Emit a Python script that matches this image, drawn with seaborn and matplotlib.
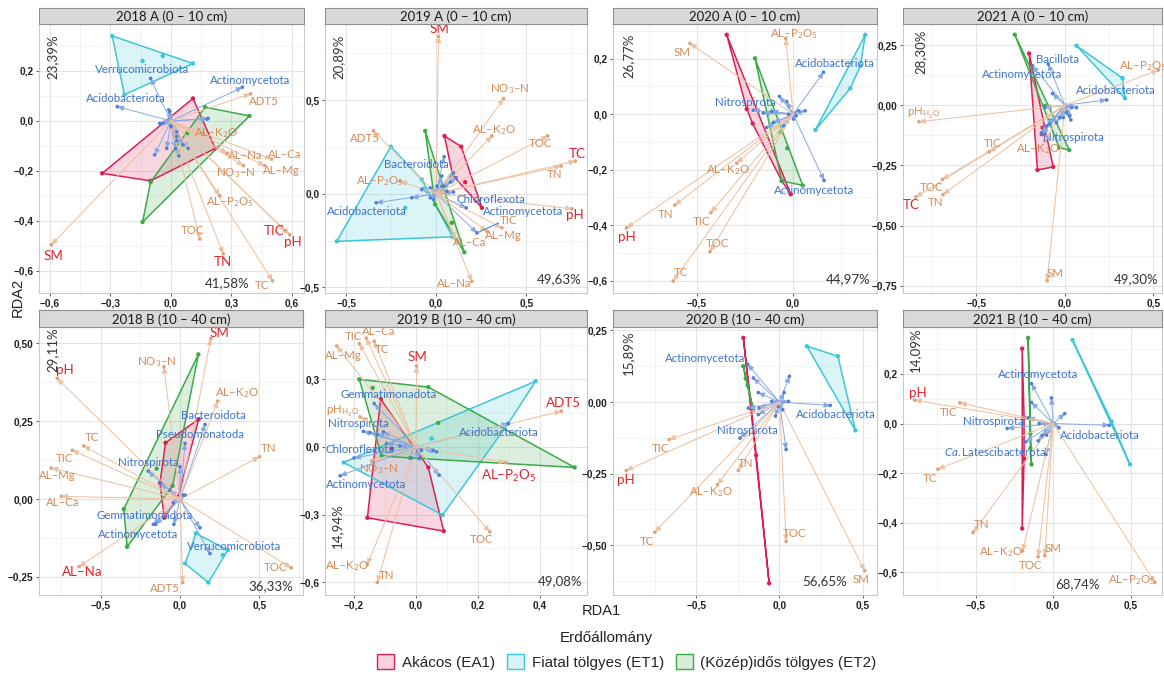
import matplotlib
matplotlib.use("Agg")
import matplotlib.pyplot as plt
import numpy as np
import pandas as pd
import seaborn as sns
from matplotlib.patches import Polygon, Patch
from matplotlib.ticker import FixedLocator, AutoMinorLocator, FuncFormatter

# ---------------------------------------------------------------- data
GROUP_CODES = ["EA1", "ET1", "ET2"]
GROUP_NAMES = ["Akácos (EA1)", "Fiatal tölgyes (ET1)", "(Közép)idős tölgyes (ET2)"]
GROUP_COLORS = ["#DC1F55", "#3CC6D9", "#3DAA48"]

PANEL_KEYS = ["2018A", "2019A", "2020A", "2021A", "2018B", "2019B", "2020B", "2021B"]
PANEL_TITLES = ["2018 A (0 – 10 cm)", "2019 A (0 – 10 cm)", "2020 A (0 – 10 cm)",
                "2021 A (0 – 10 cm)", "2018 B (10 – 40 cm)", "2019 B (10 – 40 cm)",
                "2020 B (10 – 40 cm)", "2021 B (10 – 40 cm)"]

# explained variance (RDA1, RDA2)
pct_2018A = ("41,58%", "23,39%")
pct_2019A = ("49,63%", "20,89%")
pct_2020A = ("44,97%", "26,77%")
pct_2021A = ("49,30%", "28,30%")
pct_2018B = ("36,33%", "29,11%")
pct_2019B = ("49,08%", "14,94%")
pct_2020B = ("56,65%", "15,89%")
pct_2021B = ("68,74%", "14,09%")

# site scores by forest stand
sites_2018A = {
    "EA1": [(0.11, 0.09), (0.22, -0.11), (-0.10, -0.24), (-0.34, -0.21), (0.02, -0.05)],
    "ET1": [(-0.29, 0.34), (0.11, 0.23), (-0.23, 0.105), (-0.14, 0.24), (-0.04, 0.26)],
    "ET2": [(0.17, 0.055), (0.39, 0.02), (-0.14, -0.405), (-0.10, -0.245), (0.08, -0.05)],
}
sites_2019A = {
    "EA1": [(0.046, 0.309), (0.139, 0.252), (0.254, -0.075), (0.091, 0.10), (0.161, 0.062)],
    "ET1": [(-0.252, 0.252), (-0.08, 0.077), (0.091, -0.23), (-0.552, -0.254), (-0.172, -0.075), (-0.07, 0.027)],
    "ET2": [(-0.061, 0.336), (0.156, -0.3125), (-0.006, -0.057), (0.087, -0.155), (0.096, -0.218)],
}
sites_2020A = {
    "EA1": [(-0.345, 0.286), (-0.012, -0.289), (-0.21, -0.034), (-0.241, 0.018), (-0.059, -0.241)],
    "ET1": [(0.375, 0.286), (0.297, 0.093), (0.116, -0.057), (0.35, 0.175)],
    "ET2": [(-0.198, 0.201), (0.05, -0.257), (-0.059, -0.241), (-0.068, -0.064), (-0.03, -0.123)],
}
sites_2021A = {
    "EA1": [(-0.202, 0.215), (-0.155, -0.269), (-0.066, -0.256), (-0.126, -0.093), (-0.13, -0.12)],
    "ET1": [(0.066, 0.247), (0.326, 0.1125), (0.34, 0.029)],
    "ET2": [(-0.283, 0.293), (0.025, -0.186), (-0.032, -0.176), (-0.113, -0.003), (-0.085, -0.065)],
}
sites_2018B = {
    "EA1": [(0.118, 0.257), (-0.091, 0.181), (-0.126, 0.052), (-0.099, -0.06), (-0.011, 0.0075)],
    "ET1": [(0.101, -0.11), (0.301, -0.164), (0.179, -0.268), (0.032, -0.207), (0.27, -0.18)],
    "ET2": [(0.116, 0.465), (-0.354, -0.032), (-0.333, -0.153), (-0.046, 0.043), (-0.147, 0.098)],
}
sites_2019B = {
    "EA1": [(-0.114, 0.211), (0.04, -0.091), (0.09, -0.373), (-0.157, -0.314), (-0.078, -0.007)],
    "ET1": [(0.387, 0.291), (-0.234, -0.069), (0.086, -0.302), (0.051, 0.037), (0.298, 0.103)],
    "ET2": [(-0.183, 0.299), (0.04, 0.265), (0.513, -0.091), (-0.111, -0.04), (-0.14, 0.261),
            (0.072, 0.106), (-0.019, -0.049)],
}
sites_2020B = {
    "EA1": [(-0.217, 0.224), (-0.062, -0.633), (-0.168, -0.023), (-0.14, -0.186)],
    "ET1": [(0.165, 0.195), (0.351, 0.16), (0.456, -0.099)],
    "ET2": [(-0.217, 0.125), (-0.191, 0.058), (-0.157, -0.027), (-0.203, 0.082)],
}
sites_2021B = {
    "EA1": [(-0.2, 0.302), (-0.2, -0.423), (-0.188, 0.023), (-0.188, -0.141)],
    "ET1": [(0.125, 0.336), (0.496, -0.165), (0.377, 0.009)],
    "ET2": [(-0.162, 0.345), (-0.14, -0.165), (-0.147, -0.04), (-0.147, -0.10)],
}

# named phyla (species scores)
spp_2018A = [("Verrucomicrobiota", -0.10, 0.17), ("Actinomycetota", 0.355, 0.135),
             ("Acidobacteriota", -0.265, 0.057)]
spp_2019A = [("Bacteroidota", 0.044, 0.198), ("Acidobacteriota", -0.333, -0.048),
             ("Chloroflexota", 0.167, -0.075), ("Actinomycetota", 0.226, -0.209)]
spp_2020A = [("Acidobacteriota", 0.158, 0.151), ("Nitrospirota", -0.207, 0.014),
             ("Actinomycetota", 0.161, -0.239)]
spp_2021A = [("Bacillota", -0.094, 0.171), ("Actinomycetota", -0.183, 0.164),
             ("Acidobacteriota", 0.236, 0.022), ("Nitrospirota", -0.126, -0.121)]
spp_2018B = [("Bacteroidota", 0.158, 0.24), ("Pseudomonatoda", 0.032, 0.179),
             ("Nitrospirota", -0.20, 0.09), ("Gemmatimonadota", -0.152, -0.081),
             ("Actinomycetota", -0.168, -0.081), ("Verrucomicrobiota", 0.189, -0.175)]
spp_2019B = [("Gemmatimonadota", -0.135, 0.192), ("Nitrospirota", -0.17, 0.069),
             ("Chloroflexota", -0.20, -0.049), ("Actinomycetota", -0.245, -0.128),
             ("Acidobacteriota", 0.298, 0.103)]
spp_2020B = [("Actinomycetota", -0.191, 0.132), ("Acidobacteriota", 0.305, -0.012),
             ("Nitrospirota", -0.237, -0.126)]
spp_2021B = [("Actinomycetota", -0.14, 0.161), ("Nitrospirota", -0.297, -0.02),
             ("Acidobacteriota", 0.362, -0.007), ("Ca. Latescibacterota", -0.047, -0.125)]

# remaining (unlabelled) phyla
spp_minor_2018A = [(-0.01, 0.044), (-0.005, 0.037), (-0.04, -0.01), (0.18, 0.007), (0.185, 0.01),
                   (0.0, -0.02), (0.03, -0.043), (0.03, -0.063), (0.03, -0.08), (-0.02, -0.11),
                   (0.023, -0.11), (0.06, -0.096), (0.086, -0.11), (0.04, -0.14), (-0.08, -0.136),
                   (-0.055, -0.01), (0.003, -0.023)]
spp_minor_2019A = [(0.031, 0.095), (0.004, 0.041), (0.059, 0.014), (0.096, 0.009), (0.078, 0.0625),
                   (-0.033, 0.032), (-0.135, -0.021), (-0.08, 0.023), (-0.033, -0.021), (0.031, 0.041),
                   (0.111, 0.086), (-0.015, -0.03), (0.044, 0.041), (0.096, 0.1125)]
spp_minor_2020A = [(-0.071, 0.064), (-0.033, 0.045), (0.028, 0.012), (0.0625, 0.012), (-0.155, 0.004),
                   (-0.111, 0.01), (-0.137, -0.048), (-0.102, -0.03), (-0.024, 0.0), (0.016, -0.006),
                   (-0.05, -0.042), (0.002, -0.018)]
spp_minor_2021A = [(-0.07, 0.049), (-0.113, -0.01), (-0.028, -0.051), (0.009, -0.031), (0.038, -0.01),
                   (0.066, -0.01), (0.028, -0.044), (0.034, -0.061), (-0.085, -0.079), (-0.047, -0.072),
                   (-0.009, -0.051), (-0.104, -0.086), (-0.132, -0.114)]
spp_minor_2018B = [(0.0, 0.104), (0.126, -0.092), (-0.122, 0.052), (-0.063, 0.029), (0.021, 0.013),
                   (-0.042, -0.011), (-0.038, -0.081), (0.032, 0.013)]
spp_minor_2019B = [(-0.148, 0.063), (-0.105, 0.066), (-0.095, 0.015), (-0.052, 0.004), (0.018, -0.015),
                   (0.056, -0.015), (0.067, -0.022), (0.075, -0.125), (-0.014, -0.049), (0.011, -0.052),
                   (-0.125, 0.055)]
spp_minor_2020B = [(-0.157, 0.084), (-0.127, 0.033), (-0.122, -0.021), (-0.127, -0.044), (-0.187, -0.021),
                   (0.06, 0.09), (0.028, 0.033), (0.054, 0.002), (-0.006, -0.017), (0.02, -0.027),
                   (-0.024, -0.049), (0.04, -0.166), (-0.046, 0.002)]
spp_minor_2021B = [(-0.14, 0.085), (-0.011, 0.103), (0.075, 0.04), (0.037, -0.017), (-0.097, -0.07),
                   (-0.069, -0.047), (-0.09, 0.0), (-0.162, 0.023), (-0.177, -0.074), (-0.043, -0.047)]

# environmental variables: (name, RDA1, RDA2, significant)
env_2018A = [("ADT5", 0.395, 0.108, False), ("AL-K2O", 0.16, -0.05, False), ("AL-Ca", 0.50, -0.153, False),
             ("AL-Mg", 0.466, -0.179, False), ("AL-Na", 0.28, -0.13, False), ("NO3-N", 0.36, -0.179, False),
             ("AL-P2O5", 0.243, -0.30, False), ("TOC", 0.144, -0.473, False), ("TN", 0.26, -0.532, True),
             ("TC", 0.504, -0.64, False), ("TIC", 0.565, -0.439, True), ("pH", 0.59, -0.456, True),
             ("SM", -0.592, -0.496, True)]
env_2019A = [("SM", 0.013, 0.841, True), ("NO3-N", 0.374, 0.509, False), ("AL-K2O", 0.309, 0.309, False),
             ("TOC", 0.619, 0.309, False), ("TC", 0.772, 0.175, True), ("TN", 0.693, 0.148, False),
             ("pH", 0.754, -0.08, True), ("TIC", 0.365, -0.182, False), ("AL-Mg", 0.281, -0.20, False),
             ("AL-Ca", 0.11, -0.245, False), ("AL-Na", 0.198, -0.468, False), ("ADT5", -0.348, 0.336, False),
             ("AL-P2O5", -0.20, 0.068, False)]
env_2020A = [("AL-P2O5", -0.038, 0.273, False), ("SM", -0.536, 0.255, False), ("AL-K2O", -0.293, -0.177, False),
             ("TN", -0.615, -0.328, False), ("pH", -0.866, -0.41, True), ("TIC", -0.427, -0.355, False),
             ("TOC", -0.432, -0.496, False), ("TC", -0.623, -0.602, False)]
env_2021A = [("AL-P2O5", 0.528, 0.146, False), ("pHH2O", -0.825, -0.069, False), ("TIC", -0.428, -0.194, False),
             ("AL-K2O", -0.113, -0.149, False), ("TOC", -0.692, -0.308, False), ("TC", -0.843, -0.381, True),
             ("TN", -0.689, -0.371, False), ("SM", -0.10, -0.729, False)]
env_2018B = [("SM", 0.194, 0.516, True), ("NO3-N", -0.101, 0.425, False), ("pH", -0.773, 0.388, True),
             ("AL-K2O", 0.238, 0.315, False), ("TN", 0.501, 0.136, False), ("TC", -0.606, 0.171, False),
             ("TIC", -0.678, 0.157, False), ("AL-Mg", -0.811, 0.10, False), ("AL-Ca", -0.747, 0.009, False),
             ("AL-Na", -0.636, -0.217, True), ("ADT5", 0.017, -0.268, False), ("TOC", 0.701, -0.221, False)]
env_2019B = [("TIC", -0.183, 0.457, False), ("AL-Ca", -0.161, 0.482, False), ("TC", -0.135, 0.468, False),
             ("AL-Mg", -0.256, 0.447, False), ("SM", 0.002, 0.358, True), ("ADT5", 0.47, 0.158, True),
             ("pHH2O", -0.181, 0.133, False), ("AL-P2O5", 0.29, -0.069, True), ("NO3-N", -0.143, -0.062, False),
             ("TOC", 0.239, -0.376, False), ("AL-K2O", -0.157, -0.521, False), ("TN", -0.125, -0.60, False)]
env_2020B = [("TIC", -0.663, -0.131, False), ("pH", -0.92, -0.239, True), ("TN", -0.247, -0.239, False),
             ("AL-K2O", -0.373, -0.289, False), ("TC", -0.749, -0.455, False), ("TOC", 0.04, -0.487, False),
             ("SM", 0.512, -0.589, False)]
env_2021B = [("pH", -0.894, 0.094, True), ("TIC", -0.603, 0.083, False), ("TC", -0.744, -0.184, False),
             ("TN", -0.517, -0.439, False), ("AL-K2O", -0.198, -0.514, False), ("TOC", -0.097, -0.537, False),
             ("SM", -0.054, -0.533, False), ("AL-P2O5", 0.657, -0.64, False)]

PANEL_DATA = {
    "2018A": (sites_2018A, spp_2018A, spp_minor_2018A, env_2018A, pct_2018A),
    "2019A": (sites_2019A, spp_2019A, spp_minor_2019A, env_2019A, pct_2019A),
    "2020A": (sites_2020A, spp_2020A, spp_minor_2020A, env_2020A, pct_2020A),
    "2021A": (sites_2021A, spp_2021A, spp_minor_2021A, env_2021A, pct_2021A),
    "2018B": (sites_2018B, spp_2018B, spp_minor_2018B, env_2018B, pct_2018B),
    "2019B": (sites_2019B, spp_2019B, spp_minor_2019B, env_2019B, pct_2019B),
    "2020B": (sites_2020B, spp_2020B, spp_minor_2020B, env_2020B, pct_2020B),
    "2021B": (sites_2021B, spp_2021B, spp_minor_2021B, env_2021B, pct_2021B),
}

# ---------------------------------------------------------------- layout
W, H = 1164, 678
# panel box in pixels (left, right, top, bottom), axis limits, ticks, decimals
LAYOUT = {
    "2018A": dict(box=(39, 304, 24, 293), xlim=(-0.653, 0.66), ylim=(-0.689, 0.388),
                  xt=[-0.6, -0.3, 0, 0.3, 0.6], yt=[-0.6, -0.4, -0.2, 0, 0.2], xd=1, yd=1,
                  p1=(0.709, 0.037), p2=(0.053, 0.877)),
    "2019A": dict(box=(325, 587, 24, 293), xlim=(-0.617, 0.837), ylim=(-0.53, 0.907),
                  xt=[-0.5, 0, 0.5], yt=[-0.5, 0, 0.5], xd=1, yd=1,
                  p1=(0.893, 0.052), p2=(0.05, 0.877)),
    "2020A": dict(box=(613, 877, 24, 293), xlim=(-0.936, 0.436), ylim=(-0.645, 0.325),
                  xt=[-0.5, 0], yt=[-0.6, -0.4, -0.2, 0, 0.2], xd=1, yd=1,
                  p1=(0.89, 0.05), p2=(0.06, 0.88)),
    "2021A": dict(box=(903, 1162, 24, 293), xlim=(-0.915, 0.549), ylim=(-0.78, 0.3375),
                  xt=[-0.5, 0, 0.5], yt=[-0.75, -0.5, -0.25, 0, 0.25], xd=1, yd=2,
                  p1=(0.9, 0.05), p2=(0.066, 0.896)),
    "2018B": dict(box=(39, 303, 327, 595), xlim=(-0.888, 0.775), ylim=(-0.308, 0.553),
                  xt=[-0.5, 0, 0.5], yt=[-0.25, 0, 0.25, 0.5], xd=1, yd=2,
                  p1=(0.879, 0.034), p2=(0.05, 0.914)),
    "2019B": dict(box=(325, 587, 327, 595), xlim=(-0.294, 0.553), ylim=(-0.656, 0.531),
                  xt=[-0.2, 0, 0.2, 0.4], yt=[-0.6, -0.3, 0, 0.3], xd=1, yd=1,
                  p1=(0.897, 0.052), p2=(0.046, 0.26)),
    "2020B": dict(box=(613, 877, 327, 595), xlim=(-1.0, 0.586), ylim=(-0.674, 0.262),
                  xt=[-0.5, 0, 0.5], yt=[-0.5, -0.25, 0, 0.25], xd=1, yd=2,
                  p1=(0.803, 0.052), p2=(0.057, 0.903)),
    "2021B": dict(box=(903, 1162, 327, 595), xlim=(-0.97, 0.703), ylim=(-0.691, 0.389),
                  xt=[-0.5, 0, 0.5], yt=[-0.6, -0.4, -0.2, 0, 0.2], xd=1, yd=1,
                  p1=(0.672, 0.04), p2=(0.046, 0.914)),
}

# label offsets from the arrow tip, in pixels (x right, y up)
LABEL_OFFSETS = {
    "2018A": {"Verrucomicrobiota": (-9, 9), "Actinomycetota": (8, 7), "Acidobacteriota": (9, 8),
              "ADT5": (13, -8), "AL-K2O": (13, 0), "AL-Ca": (13, 5), "AL-Mg": (16, -5), "AL-Na": (18, -2),
              "NO3-N": (-8, -7), "AL-P2O5": (10, -6), "TOC": (-7, 9), "TN": (0, -8), "TC": (-11, -5),
              "TIC": (-11, 0), "pH": (3, -7), "SM": (2, -11)},
    "2019A": {"SM": (1, 7), "NO3-N": (6, 9), "AL-K2O": (2, 6), "TOC": (-7, -8), "TC": (2, 7), "TN": (-7, -8),
              "pH": (3, -6), "TIC": (7, 7), "AL-Mg": (17, -4), "AL-Ca": (14, -3), "AL-Na": (-18, -2),
              "ADT5": (-9, -8), "AL-P2O5": (-20, 0), "Bacteroidota": (-28, -8), "Acidobacteriota": (-9, -9),
              "Chloroflexota": (25, 8), "Actinomycetota": (46, 21)},
    "2020A": {"AL-P2O5": (8, 4), "SM": (-8, -9), "AL-K2O": (-9, -7), "TN": (-9, -9), "pH": (0, -9),
              "TIC": (-9, -9), "TOC": (8, 8), "TC": (8, 9), "Acidobacteriota": (11, 9),
              "Nitrospirota": (-8, 8), "Actinomycetota": (-10, -10)},
    "2021A": {"AL-P2O5": (-15, 4), "pHH2O": (5, 8), "TIC": (3, 8), "AL-K2O": (-7, -8), "TOC": (-11, -8),
              "TC": (-4, -8), "TN": (-7, -8), "SM": (8, 7), "Bacillota": (9, 5), "Actinomycetota": (-10, -9),
              "Acidobacteriota": (9, 9), "Nitrospirota": (31, -3)},
    "2018B": {"SM": (9, 6), "NO3-N": (-7, 5), "pH": (8, 8), "AL-K2O": (19, 8), "TN": (9, 8), "TC": (8, 8),
              "TIC": (-8, -8), "AL-Mg": (6, -7), "AL-Ca": (1, -6), "AL-Na": (3, -5), "ADT5": (-18, -6),
              "TOC": (-16, 0), "Bacteroidota": (8, 9), "Pseudomonatoda": (15, 9), "Nitrospirota": (0, 9),
              "Gemmatimonadota": (-11, 9), "Actinomycetota": (-15, -10), "Verrucomicrobiota": (24, 7)},
    "2019B": {"TIC": (-6, 7), "AL-Ca": (13, 7), "TC": (8, -8), "AL-Mg": (7, -10), "SM": (1, 9),
              "ADT5": (2, 8), "pHH2O": (-17, 5), "AL-P2O5": (3, -13), "NO3-N": (7, -8), "TOC": (-8, -8),
              "AL-K2O": (-21, -2), "TN": (9, 7), "Gemmatimonadota": (14, 9), "Nitrospirota": (-5, 8),
              "Chloroflexota": (6, 8), "Actinomycetota": (26, -9), "Acidobacteriota": (-9, -9)},
    "2020B": {"TIC": (-9, -9), "pH": (0, -10), "TN": (7, 7), "AL-K2O": (-7, -7), "TC": (-8, -9),
              "TOC": (8, 8), "SM": (-4, -9), "Actinomycetota": (-43, 6), "Acidobacteriota": (6, -9),
              "Nitrospirota": (7, 8)},
    "2021B": {"pH": (3, 7), "TIC": (-11, -10), "TC": (-8, -9), "TN": (8, 8), "AL-K2O": (-22, -1),
              "TOC": (-8, -9), "SM": (8, 7), "AL-P2O5": (-23, 2), "Actinomycetota": (7, 9),
              "Nitrospirota": (-14, 7), "Acidobacteriota": (-9, -10), "Ca. Latescibacterota": (-51, 3)},
}
LEADER_LINES = {("2019A", "Actinomycetota")}

DISPLAY = {
    "AL-K2O": "AL–K$_2$O",
    "AL-P2O5": "AL–P$_2$O$_5$",
    "NO3-N": "NO$_3$–N",
    "pHH2O": r"pH$_{\mathrm{H}_{2}\mathrm{O}}$",
    "AL-Ca": "AL–Ca", "AL-Mg": "AL–Mg", "AL-Na": "AL–Na",
    "Ca. Latescibacterota": r"$\mathit{Ca.}$Latescibacterota",
}

SPP_LINE = "#86A9E3"
SPP_DOT = "#4F82D6"
SPP_TEXT = "#3D74CC"
ENV_LINE = "#EDC2A2"
ENV_DOT = "#E3A277"
ENV_TEXT = "#D58A57"
ENV_SIG = "#E42129"

# ---------------------------------------------------------------- style
sns.set_theme(style="whitegrid")
plt.rcParams["font.family"] = ["Lato", "DejaVu Sans"]
plt.rcParams["mathtext.fontset"] = "custom"
plt.rcParams["mathtext.rm"] = "Lato"
plt.rcParams["mathtext.it"] = "Lato:italic"
plt.rcParams["mathtext.bf"] = "Lato:bold"


def convex_hull(points):
    pts = sorted(set(points))
    if len(pts) < 3:
        return pts

    def cross(o, a, b):
        return (a[0] - o[0]) * (b[1] - o[1]) - (a[1] - o[1]) * (b[0] - o[0])

    lower, upper = [], []
    for p in pts:
        while len(lower) >= 2 and cross(lower[-2], lower[-1], p) <= 0:
            lower.pop()
        lower.append(p)
    for p in reversed(pts):
        while len(upper) >= 2 and cross(upper[-2], upper[-1], p) <= 0:
            upper.pop()
        upper.append(p)
    return lower[:-1] + upper[:-1]


def px_rect(left, right, top, bottom):
    return [left / W, 1 - bottom / H, (right - left) / W, (bottom - top) / H]


def tick_fmt(d):
    return FuncFormatter(lambda v, _: f"{v:.{d}f}".replace(".", ",").replace("-", "−"))


def draw_arrow(ax, x, y, color, lw, z):
    ax.annotate("", xy=(x, y), xytext=(0, 0),
                arrowprops=dict(arrowstyle="-|>,head_length=0.45,head_width=0.2",
                                color=color, lw=lw, shrinkA=0, shrinkB=0, mutation_scale=8),
                zorder=z)


fig = plt.figure(figsize=(W / 100, H / 100), dpi=100)

for key, title in zip(PANEL_KEYS, PANEL_TITLES):
    sites, spp, spp_minor, env, pct = PANEL_DATA[key]
    lay = LAYOUT[key]
    offs = LABEL_OFFSETS[key]
    l, r, t, b = lay["box"]
    ax = fig.add_axes(px_rect(l, r, t, b))
    ax.set_facecolor("white")
    ax.set_axisbelow(True)

    # forest-stand hulls and site points
    rows = []
    for code, color in zip(GROUP_CODES, GROUP_COLORS):
        pts = sites[code]
        hull = convex_hull(pts)
        ax.add_patch(Polygon(hull, closed=True, facecolor=color, alpha=0.18, edgecolor="none", zorder=2))
        ax.add_patch(Polygon(hull, closed=True, facecolor="none", edgecolor=color, lw=1.1, zorder=3))
        rows += [(code, px, py) for px, py in pts]
    site_df = pd.DataFrame(rows, columns=["stand", "RDA1", "RDA2"])
    sns.scatterplot(data=site_df, x="RDA1", y="RDA2", hue="stand", hue_order=GROUP_CODES,
                    palette=GROUP_COLORS, s=10, edgecolor="none", legend=False, ax=ax, zorder=4)

    # phyla arrows
    spp_pts = [(x, y) for _, x, y in spp] + list(spp_minor)
    for x, y in spp_pts:
        draw_arrow(ax, x, y, SPP_LINE, 0.7, 5)
    spp_df = pd.DataFrame(spp_pts, columns=["RDA1", "RDA2"])
    sns.scatterplot(data=spp_df, x="RDA1", y="RDA2", color=SPP_DOT, s=7, edgecolor="none",
                    legend=False, ax=ax, zorder=6)

    # environmental arrows
    for name, x, y, sig in env:
        draw_arrow(ax, x, y, ENV_LINE, 0.75, 5)
    env_df = pd.DataFrame([(x, y) for _, x, y, _ in env], columns=["RDA1", "RDA2"])
    sns.scatterplot(data=env_df, x="RDA1", y="RDA2", color=ENV_DOT, s=7, edgecolor="none",
                    legend=False, ax=ax, zorder=6)

    # labels
    for name, x, y in spp:
        dx, dy = offs.get(name, (0, 9))
        lead = (key, name) in LEADER_LINES
        ax.annotate(DISPLAY.get(name, name), xy=(x, y), xytext=(dx, dy), textcoords="offset pixels",
                    ha="center", va="center", fontsize=8.3, color=SPP_TEXT, zorder=8,
                    annotation_clip=False,
                    arrowprops=dict(arrowstyle="-", color=SPP_DOT, lw=0.8, shrinkA=4, shrinkB=0)
                    if lead else None)
    for name, x, y, sig in env:
        dx, dy = offs.get(name, (0, 9))
        ax.annotate(DISPLAY.get(name, name), xy=(x, y), xytext=(dx, dy), textcoords="offset pixels",
                    ha="center", va="center", fontsize=9.6 if sig else 8.3,
                    color=ENV_SIG if sig else ENV_TEXT, zorder=8, annotation_clip=False)

    # explained variance
    ax.text(*lay["p1"], pct[0], transform=ax.transAxes, ha="center", va="center",
            fontsize=9.5, color="#333333", zorder=9)
    ax.text(*lay["p2"], pct[1], transform=ax.transAxes, ha="center", va="center",
            fontsize=9.5, color="#333333", rotation=90, zorder=9)

    # axes and grid
    ax.set_xlim(*lay["xlim"])
    ax.set_ylim(*lay["ylim"])
    ax.xaxis.set_major_locator(FixedLocator(lay["xt"]))
    ax.yaxis.set_major_locator(FixedLocator(lay["yt"]))
    ax.xaxis.set_minor_locator(AutoMinorLocator(2))
    ax.yaxis.set_minor_locator(AutoMinorLocator(2))
    ax.xaxis.set_major_formatter(tick_fmt(lay["xd"]))
    ax.yaxis.set_major_formatter(tick_fmt(lay["yd"]))
    ax.grid(which="major", color="#E4E4E4", lw=0.8)
    ax.grid(which="minor", color="#F1F1F1", lw=0.6)
    ax.set_xlabel("")
    ax.set_ylabel("")
    ax.tick_params(which="major", length=2.5, width=0.6, color="#444444", pad=1.5,
                   labelsize=7.3, labelcolor="#222222", bottom=True, left=True)
    ax.tick_params(which="minor", length=0)
    for lab in ax.get_xticklabels() + ax.get_yticklabels():
        lab.set_fontfamily("Liberation Sans")
        lab.set_fontweight("bold")
    for sp in ax.spines.values():
        sp.set_color("#C9C9C9")
        sp.set_linewidth(0.8)

    # facet strip
    st = 8 if t < 100 else 310
    sax = fig.add_axes(px_rect(l, r, st, t))
    sax.set_facecolor("#D9D9D9")
    sax.set_xticks([])
    sax.set_yticks([])
    sax.grid(False)
    for sp in sax.spines.values():
        sp.set_color("#8F8F8F")
        sp.set_linewidth(0.8)
    sax.text(0.5, 0.45, title, ha="center", va="center", fontsize=9.5, color="#1A1A1A",
             transform=sax.transAxes)

# shared axis titles
fig.text(18 / W, 1 - 297 / H, "RDA2", rotation=90, ha="center", va="center",
         fontsize=10.5, color="#222222", family="Liberation Sans")
fig.text(601 / W, 1 - 611 / H, "RDA1", ha="center", va="center",
         fontsize=10.5, color="#222222", family="Liberation Sans")

# legend
fig.text(606 / W, 1 - 638 / H, "Erdőállomány", ha="center", va="center",
         fontsize=11, color="#222222", family="Liberation Sans")
handles = [Patch(facecolor=matplotlib.colors.to_rgba(c, 0.2), edgecolor=c, lw=1.0) for c in GROUP_COLORS]
fig.legend(handles, GROUP_NAMES, loc="center", bbox_to_anchor=(627 / W, 1 - 662 / H), ncol=3,
           frameon=False, handlelength=1.1, handleheight=1.1,
           columnspacing=0.8, handletextpad=0.5, borderpad=0.2,
           prop={"family": "Liberation Sans", "size": 11})

fig.savefig("out.png", dpi=100)
